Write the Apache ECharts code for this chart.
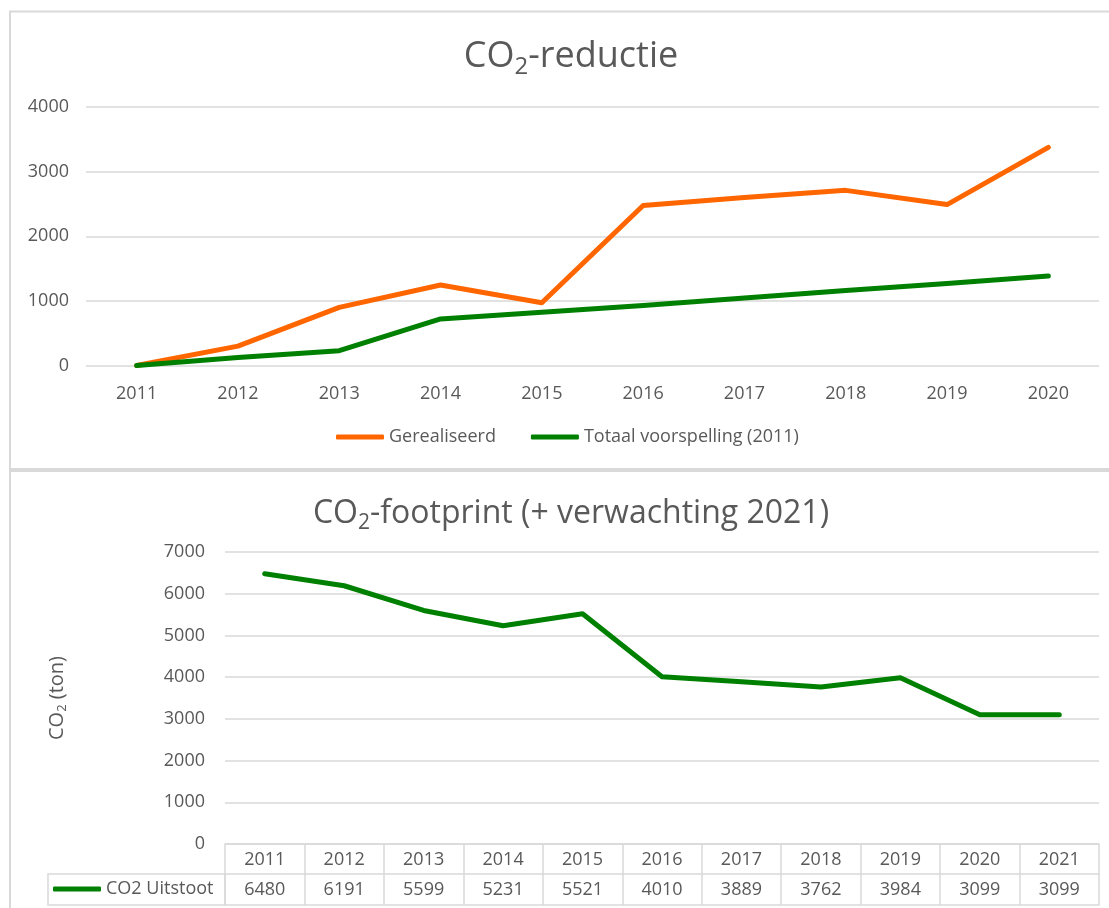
<!DOCTYPE html>
<html>
<head>
<meta charset="utf-8">
<script src="https://cdn.jsdelivr.net/npm/echarts@6/dist/echarts.min.js"></script>
<style>html,body{margin:0;padding:0;background:#fff}#c{width:1109px;height:908px}</style>
</head>
<body>
<div id="c"></div>
<script>
// ---- data ----
const yearsTop = ['2011','2012','2013','2014','2015','2016','2017','2018','2019','2020'];
const gerealiseerd = [0, 300, 900, 1245, 970, 2475, 2600, 2710, 2490, 3375];
const voorspelling = [0, 125, 230, 720, 825, 930, 1045, 1160, 1270, 1385];
const yTopMin = 0, yTopMax = 4000, yTopStep = 1000;

const yearsBottom = ['2011','2012','2013','2014','2015','2016','2017','2018','2019','2020','2021'];
const co2Uitstoot = [6480, 6191, 5599, 5231, 5521, 4010, 3889, 3762, 3984, 3099, 3099];
const yBotMin = 0, yBotMax = 7000, yBotStep = 1000;

// ---- style ----
const TXT = '#595959', GRIDC = '#D9D9D9', FONT = 'Open Sans';
const ORANGE = '#FF6600', GREEN = '#008000';

function titleRich(size) {
  return {
    a: {fontSize: size, lineHeight: size + 8, color: TXT, fontFamily: FONT, fontWeight: 'normal'},
    s: {fontSize: Math.round(size * 0.66), lineHeight: Math.round(size * 0.66), padding: [Math.round(size * 0.56), 0, 0, 0], color: TXT, fontFamily: FONT, fontWeight: 'normal'}
  };
}
const nameRich = {
  a: {fontSize: 20, lineHeight: 26, color: TXT, fontFamily: FONT, fontWeight: 'normal'},
  s: {fontSize: 13, lineHeight: 13, padding: [11, 0, 0, 0], color: TXT, fontFamily: FONT, fontWeight: 'normal'}
};
const lbl = {color: TXT, fontSize: 18, fontFamily: FONT};
const gridLine = {color: GRIDC, width: 1.5};
const plain = v => String(v);

const chart = echarts.init(document.getElementById('c'));
chart.setOption({
  animation: false,
  backgroundColor: '#fff',
  textStyle: {fontFamily: FONT},
  graphic: [
    {type: 'rect', shape: {x: 10, y: 11.5, width: 1200, height: 457.5}, style: {fill: 'none', stroke: GRIDC, lineWidth: 2}, silent: true},
    {type: 'rect', shape: {x: 10, y: 471, width: 1200, height: 500}, style: {fill: 'none', stroke: GRIDC, lineWidth: 2}, silent: true},
    {type: 'rect', shape: {x: 48, y: 874, width: 177, height: 31}, style: {fill: 'none', stroke: GRIDC, lineWidth: 1.5}, silent: true}
  ],
  title: [
    {text: '{a|CO}{s|2}{a|-reductie}', left: 566, top: 30, textAlign: 'center', textVerticalAlign: 'top',
     textStyle: {fontWeight: 'normal', rich: titleRich(36)}},
    {text: '{a|CO}{s|2}{a|-footprint (+ verwachting 2021)}', left: 566, top: 489, textAlign: 'center', textVerticalAlign: 'top',
     textStyle: {fontWeight: 'normal', rich: titleRich(32)}}
  ],
  legend: [
    {data: ['Gerealiseerd', 'Totaal voorspelling (2011)'], left: 336, top: 428, padding: 0, itemGap: 35,
     itemWidth: 48, itemHeight: 5, icon: 'roundRect', textStyle: lbl},
    {data: ['CO2 Uitstoot'], left: 53, top: 880, padding: 0,
     itemWidth: 48, itemHeight: 5, icon: 'roundRect', textStyle: lbl}
  ],
  grid: [
    {left: 86, top: 107, width: 1013, height: 258.5, outerBoundsMode: 'none'},
    {left: 225, top: 552, width: 874, height: 292, outerBoundsMode: 'none'}
  ],
  xAxis: [
    {gridIndex: 0, type: 'category', data: yearsTop, boundaryGap: true,
     axisLine: {show: false}, axisTick: {show: false}, axisLabel: Object.assign({margin: 19, interval: 0}, lbl)},
    {gridIndex: 1, type: 'category', data: yearsBottom, boundaryGap: true, position: 'bottom',
     axisLine: {show: true, lineStyle: gridLine},
     axisTick: {show: true, interval: 0, length: 30, lineStyle: gridLine},
     axisLabel: Object.assign({margin: 7, interval: 0}, lbl)},
    {gridIndex: 1, type: 'category', data: yearsBottom, boundaryGap: true, position: 'bottom', offset: 30,
     axisLine: {show: true, lineStyle: gridLine},
     axisTick: {show: true, interval: 0, length: 31, lineStyle: gridLine},
     axisLabel: Object.assign({margin: 7, interval: 0, formatter: (v, i) => String(co2Uitstoot[i])}, lbl)},
    {gridIndex: 1, type: 'category', data: yearsBottom, boundaryGap: true, position: 'bottom', offset: 61,
     axisLine: {show: true, lineStyle: gridLine}, axisTick: {show: false}, axisLabel: {show: false}}
  ],
  yAxis: [
    {gridIndex: 0, type: 'value', min: yTopMin, max: yTopMax, interval: yTopStep,
     axisLine: {show: false}, axisTick: {show: false},
     axisLabel: Object.assign({margin: 17, formatter: plain}, lbl), splitLine: {lineStyle: gridLine}},
    {gridIndex: 1, type: 'value', min: yBotMin, max: yBotMax, interval: yBotStep,
     name: '{a|CO}{s|2}{a| (ton)}', nameLocation: 'middle', nameGap: 155, nameTextStyle: {rich: nameRich},
     axisLine: {show: false}, axisTick: {show: false},
     axisLabel: Object.assign({margin: 20, formatter: plain}, lbl), splitLine: {lineStyle: gridLine}}
  ],
  series: [
    {name: 'Gerealiseerd', type: 'line', xAxisIndex: 0, yAxisIndex: 0, data: gerealiseerd, symbol: 'none',
     lineStyle: {color: ORANGE, width: 5, cap: 'round', join: 'round'}, itemStyle: {color: ORANGE}},
    {name: 'Totaal voorspelling (2011)', type: 'line', xAxisIndex: 0, yAxisIndex: 0, data: voorspelling, symbol: 'none',
     lineStyle: {color: GREEN, width: 5, cap: 'round', join: 'round'}, itemStyle: {color: GREEN}},
    {name: 'CO2 Uitstoot', type: 'line', xAxisIndex: 1, yAxisIndex: 1, data: co2Uitstoot, symbol: 'none',
     lineStyle: {color: GREEN, width: 5, cap: 'round', join: 'round'}, itemStyle: {color: GREEN}}
  ]
});
</script>
</body>
</html>
